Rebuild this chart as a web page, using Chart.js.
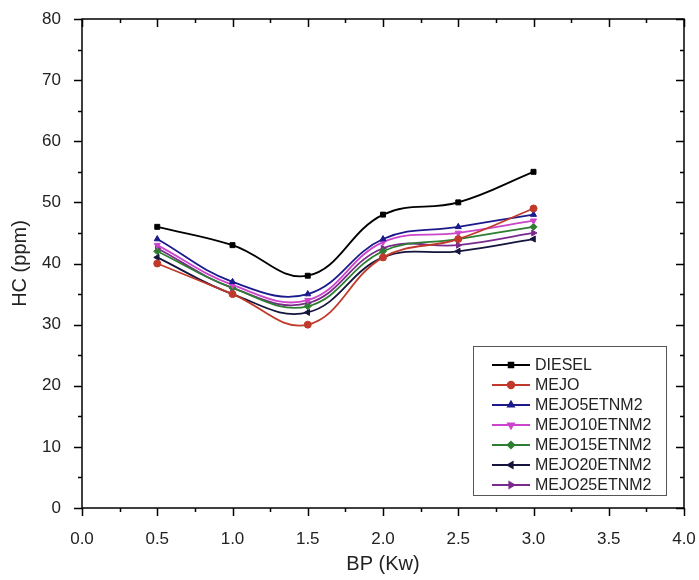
<!DOCTYPE html>
<html>
<head>
  <title>HC vs BP</title>
  <script src="https://cdn.jsdelivr.net/npm/chart.js@4/dist/chart.umd.js"></script>
  <style>
    body { margin: 0; background: #fff; }
    #wrap { width: 699px; height: 580px; }
  </style>
</head>
<body>
  <div id="wrap"><canvas id="hcChart" width="699" height="580"></canvas></div>
  <script>
    // data
    var bp = [0.5, 1.0, 1.5, 2.0, 2.5, 3.0];
    var seriesNames = ['DIESEL', 'MEJO', 'MEJO5ETNM2', 'MEJO10ETNM2', 'MEJO15ETNM2', 'MEJO20ETNM2', 'MEJO25ETNM2'];
    var diesel   = [46, 43, 38, 48, 50, 55];
    var mejo     = [40, 35, 30, 41, 44, 49];
    var mejo5    = [44, 37, 35, 44, 46, 48];
    var mejo10   = [43, 36.5, 34, 43.5, 45, 47];
    var mejo15   = [42, 36, 33, 42, 44, 46];
    var mejo20   = [41, 35, 32, 41, 42, 44];
    var mejo25   = [42.5, 36, 33.5, 42.5, 43, 45];
    var xTicks = [0, 0.5, 1, 1.5, 2, 2.5, 3, 3.5, 4];
    var yTicks = [0, 10, 20, 30, 40, 50, 60, 70, 80];

    var allSeries = [diesel, mejo, mejo5, mejo10, mejo15, mejo20, mejo25];
    var colors = ['#000000', '#c0392b', '#1a1a8c', '#cc44cc', '#2e7d32', '#14143c', '#7a2a8c'];
    var markers = ['rect', 'circle', 'triangle', 'triangle', 'rectRot', 'triangle', 'triangle'];
    var rotations = [0, 0, 0, 180, 0, -90, 90];

    var datasets = allSeries.map(function (vals, i) {
      return {
        label: seriesNames[i],
        data: vals.map(function (v, j) { return { x: bp[j], y: v }; }),
        borderColor: colors[i],
        backgroundColor: colors[i],
        borderWidth: 1.8,
        pointStyle: markers[i],
        pointRotation: rotations[i],
        pointRadius: 3.5,
        pointBorderWidth: 1,
        tension: 0.4,
        fill: false
      };
    });

    // frame + ticks on all four sides (majors and minors)
    var framePlugin = {
      id: 'frame',
      afterDatasetsDraw: function (chart) {
        var c = chart.ctx, a = chart.chartArea;
        var xs = chart.scales.x, ys = chart.scales.y;
        c.save();
        c.strokeStyle = '#000';
        c.lineWidth = 1.5;
        c.strokeRect(a.left, a.top, a.right - a.left, a.bottom - a.top);
        c.beginPath();
        for (var v = 0; v <= 4.0001; v += 0.25) {
          var px = Math.round(xs.getPixelForValue(v)) + 0.5;
          var major = Math.abs(v * 2 - Math.round(v * 2)) < 1e-6;
          var len = major ? 8 : 4;
          c.moveTo(px, a.bottom); c.lineTo(px, a.bottom + len);
          c.moveTo(px, a.top); c.lineTo(px, a.top + len);
        }
        for (var w = 0; w <= 80; w += 5) {
          var py = Math.round(ys.getPixelForValue(w)) + 0.5;
          var lenY = (w % 10 === 0) ? 8 : 4;
          c.moveTo(a.left, py); c.lineTo(a.left - lenY, py);
          c.moveTo(a.right, py); c.lineTo(a.right - lenY, py);
        }
        c.stroke();
        c.restore();
      }
    };

    // legend box drawn inside the plot, bottom right
    var legendPlugin = {
      id: 'boxLegend',
      afterDraw: function (chart) {
        var c = chart.ctx, a = chart.chartArea;
        var boxR = a.right - 18, boxB = a.bottom - 13;
        var boxW = 193, boxH = 149;
        var boxL = boxR - boxW, boxT = boxB - boxH;
        c.save();
        c.fillStyle = '#fff';
        c.fillRect(boxL, boxT, boxW, boxH);
        c.strokeStyle = '#555';
        c.lineWidth = 1;
        c.strokeRect(boxL + 0.5, boxT + 0.5, boxW, boxH);
        c.font = '16px "Liberation Sans", Arial, sans-serif';
        c.textBaseline = 'middle';
        chart.data.datasets.forEach(function (ds, i) {
          var y = boxT + 19 + i * 20;
          var x0 = boxL + 19, x1 = boxL + 57;
          c.strokeStyle = ds.borderColor;
          c.lineWidth = 2;
          c.beginPath(); c.moveTo(x0, y); c.lineTo(x1, y); c.stroke();
          c.fillStyle = ds.backgroundColor;
          Chart.helpers.drawPoint(c, {
            pointStyle: ds.pointStyle, rotation: ds.pointRotation,
            radius: 3.2, borderWidth: 1
          }, (x0 + x1) / 2, y);
          c.fillStyle = '#222';
          c.fillText(ds.label, x1 + 5, y + 1);
        });
        c.restore();
      }
    };

    var font = '"Liberation Sans", Arial, sans-serif';
    new Chart(document.getElementById('hcChart').getContext('2d'), {
      type: 'line',
      data: { datasets: datasets },
      plugins: [framePlugin, legendPlugin],
      options: {
        responsive: false,
        animation: false,
        layout: { padding: 0 },
        plugins: { legend: { display: false }, tooltip: { enabled: false } },
        scales: {
          x: {
            type: 'linear', min: 0, max: 4,
            afterBuildTicks: function (s) { s.ticks = xTicks.map(function (v) { return { value: v }; }); },
            afterFit: function (s) { s.height = 72; s.paddingLeft = 0; s.paddingRight = 15; },
            grid: { display: false },
            border: { display: false },
            ticks: {
              padding: 13, color: '#222',
              font: { family: font, size: 17 },
              callback: function (v) { return Number(v).toFixed(1); }
            },
            title: { display: true, text: 'BP (Kw)', color: '#222', font: { family: font, size: 20 }, padding: { top: 8 } }
          },
          y: {
            type: 'linear', min: 0, max: 80,
            afterBuildTicks: function (s) { s.ticks = yTicks.map(function (v) { return { value: v }; }); },
            afterFit: function (s) { s.width = 82; s.paddingTop = 19; s.paddingBottom = 0; },
            grid: { display: false },
            border: { display: false },
            ticks: {
              padding: 13, color: '#222',
              font: { family: font, size: 17 }
            },
            title: { display: true, text: 'HC (ppm)', color: '#222', font: { family: font, size: 20 }, padding: { top: 8, bottom: 4 } }
          }
        }
      }
    });
  </script>
</body>
</html>
